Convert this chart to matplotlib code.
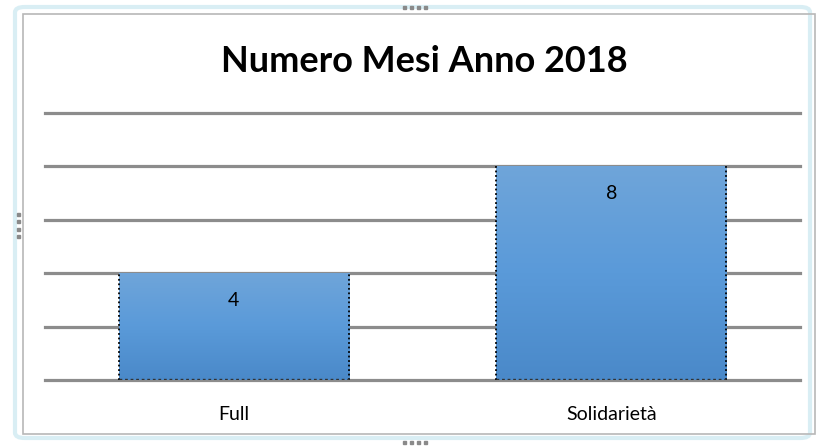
import numpy as np
import matplotlib.pyplot as plt
from matplotlib.patches import FancyBboxPatch, Rectangle
from matplotlib.colors import LinearSegmentedColormap

categories = ['Full', 'Solidarietà']
values = [4, 8]
y_ticks = [0, 2, 4, 6, 8, 10]
title = 'Numero Mesi Anno 2018'

plt.rcParams['font.family'] = ['Lato', 'DejaVu Sans']

W, H = 817, 446
fig = plt.figure(figsize=(W / 100, H / 100), dpi=100)
fig.patch.set_facecolor('white')

# cornice esterna del grafico (stile Excel selezionato)
frame = FancyBboxPatch((15 / W, 8 / H), 795 / W, 431 / H,
                       boxstyle='round,pad=0,rounding_size=0.012',
                       transform=fig.transFigure, facecolor='none',
                       edgecolor='#d9eef4', linewidth=3)
fig.patches.append(frame)
inner = Rectangle((23 / W, 12 / H), 792 / W, 420 / H, transform=fig.transFigure,
                  facecolor='none', edgecolor='#b8b8b8', linewidth=1.2)
fig.patches.append(inner)
# maniglie
for hx in [403, 410, 417, 424]:
    fig.patches.append(Rectangle((hx / W, (H - 9) / H), 3 / W, 3 / H,
                                 transform=fig.transFigure, color='#8a8a8a'))
    fig.patches.append(Rectangle((hx / W, 2 / H), 3 / W, 3 / H,
                                 transform=fig.transFigure, color='#8a8a8a'))
for hy in [214, 221, 229, 236]:
    fig.patches.append(Rectangle((17 / W, (H - hy - 1.5) / H), 3 / W, 3 / H,
                                 transform=fig.transFigure, color='#8a8a8a'))

ax = fig.add_axes([45 / W, 1 - 380 / H, 755 / W, (380 - 113) / H])
ax.set_xlim(-0.5, 1.5)
ax.set_ylim(0, 10)
for s in ax.spines.values():
    s.set_visible(False)
ax.set_yticks(y_ticks)
ax.set_yticklabels([])
ax.tick_params(axis='y', length=0)
ax.tick_params(axis='x', length=0, labelsize=14, pad=19)
ax.yaxis.grid(True, color='#8c8c8c', linewidth=2.3)
for gl in ax.get_ygridlines():
    gl.set_clip_on(False)
ax.set_axisbelow(True)

x = np.arange(len(categories))
width = 0.61
bars = ax.bar(x, values, width=width, color='none', edgecolor='none', zorder=3)

# gradiente blu sulle barre
grad = np.linspace(0, 1, 256).reshape(-1, 1)
cmap = LinearSegmentedColormap.from_list('bar', ['#4a89c9', '#5a9ad9', '#6fa5da'])
for b in bars:
    x0, w, h = b.get_x(), b.get_width(), b.get_height()
    ax.imshow(grad, cmap=cmap, origin='lower', aspect='auto',
              extent=[x0, x0 + w, 0, h], zorder=3)
    ax.plot([x0, x0], [0, h], color='black', linestyle=(0, (1, 1.5)), linewidth=1.3, zorder=4)
    ax.plot([x0 + w, x0 + w], [0, h], color='black', linestyle=(0, (1, 1.5)), linewidth=1.3, zorder=4)
    ax.plot([x0, x0 + w], [0.02, 0.02], color='#333333', linestyle=(0, (2, 2)), linewidth=1.0, zorder=4)
    ax.annotate(str(int(h)), (b.get_x() + w / 2, h), xytext=(0, -19.5),
                textcoords='offset points', ha='center', va='center', fontsize=14,
                zorder=5)

ax.set_xticks(x)
ax.set_xticklabels(categories)
ax.set_xlim(-0.5, 1.5)
ax.set_ylim(0, 10)

fig.text(424 / W, 1 - 62 / H, title, ha='center', va='center',
         fontsize=26, fontweight='bold')

fig.savefig('out.png', dpi=100, facecolor='white')
